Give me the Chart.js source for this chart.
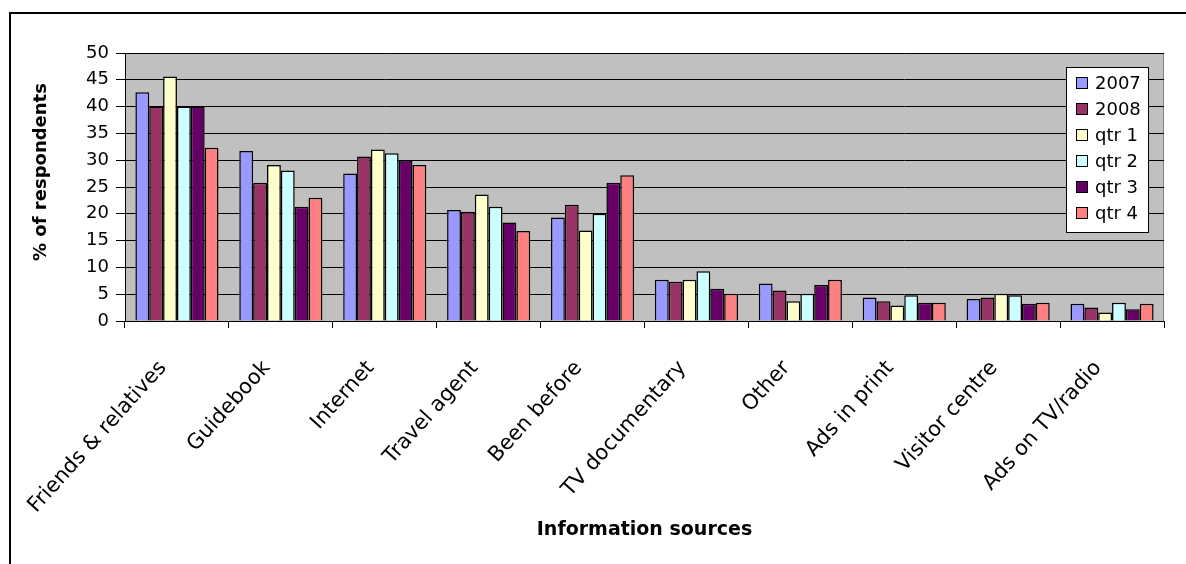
<!DOCTYPE html>
<html>
<head>
<meta charset="utf-8">
<script src="https://cdn.jsdelivr.net/npm/chart.js@4.4.1/dist/chart.umd.min.js"></script>
<style>
  html, body { margin: 0; padding: 0; background: #ffffff; overflow: hidden; }
  canvas { display: block; }
</style>
</head>
<body>
<canvas id="chart" width="1186" height="564"></canvas>
<script>
// Information sources used by respondents (% of respondents)
const categories = ['Friends & relatives', 'Guidebook', 'Internet', 'Travel agent', 'Been before',
  'TV documentary', 'Other', 'Ads in print', 'Visitor centre', 'Ads on TV/radio'];

const seriesNames = ['2007', '2008', 'qtr 1', 'qtr 2', 'qtr 3', 'qtr 4'];

const values2007 = [42.7, 31.7, 27.5, 20.7, 19.3, 7.7, 7.0, 4.4, 4.1, 3.2];
const values2008 = [40.0, 25.8, 30.7, 20.4, 21.7, 7.3, 5.7, 3.7, 4.4, 2.5];
const valuesQtr1 = [45.6, 29.1, 32.0, 23.6, 16.9, 7.7, 3.7, 2.9, 5.1, 1.6];
const valuesQtr2 = [40.0, 28.1, 31.3, 21.3, 20.0, 9.3, 5.1, 4.8, 4.8, 3.4];
const valuesQtr3 = [40.0, 21.3, 30.0, 18.4, 25.8, 6.0, 6.7, 3.4, 3.2, 2.2];
const valuesQtr4 = [32.3, 23.0, 29.1, 16.8, 27.2, 5.1, 7.7, 3.4, 3.4, 3.2];

const yMin = 0;
const yMax = 50;
const yStep = 5;

const xTitle = 'Information sources';
const yTitle = '% of respondents';

const seriesValues = [values2007, values2008, valuesQtr1, valuesQtr2, valuesQtr3, valuesQtr4];
const seriesColors = ['#9999FF', '#993366', '#FFFFCC', '#CCFFFF', '#660066', '#FF8080'];

const FONT = "'DejaVu Sans', 'Liberation Sans', sans-serif";

// Frame, plot-area fill, axis titles and the boxed legend
const decorations = {
  id: 'decorations',
  beforeDraw(chart) {
    const { ctx, chartArea: a } = chart;
    ctx.save();
    ctx.fillStyle = '#C0C0C0';
    ctx.fillRect(a.left, a.top, a.right - a.left, a.bottom - a.top);
    ctx.strokeStyle = '#808080';
    ctx.lineWidth = 1;
    ctx.beginPath();
    ctx.moveTo(a.left, a.top + 0.5);
    ctx.lineTo(a.right - 0.5, a.top + 0.5);
    ctx.lineTo(a.right - 0.5, a.bottom);
    ctx.stroke();
    ctx.restore();
  },
  afterDraw(chart) {
    const { ctx, chartArea: a } = chart;
    ctx.save();
    // outer frame
    ctx.strokeStyle = '#000000';
    ctx.lineWidth = 2;
    ctx.strokeRect(10, 13, 1190, 570);

    // axis titles
    ctx.fillStyle = '#000000';
    ctx.font = 'bold 19px ' + FONT;
    ctx.textAlign = 'center';
    ctx.textBaseline = 'middle';
    ctx.fillText(xTitle, (a.left + a.right) / 2, 530);
    ctx.font = 'bold 18px ' + FONT;
    ctx.translate(41, 172);
    ctx.rotate(-Math.PI / 2);
    ctx.fillText(yTitle, 0, 0);
    ctx.restore();

    // legend
    ctx.save();
    const lx = 1066, ly = 67, lw = 82, lh = 165;
    ctx.fillStyle = '#ffffff';
    ctx.fillRect(lx, ly, lw, lh);
    ctx.strokeStyle = '#000000';
    ctx.lineWidth = 1;
    ctx.strokeRect(lx + 0.5, ly + 0.5, lw, lh);
    ctx.font = '18px ' + FONT;
    ctx.textAlign = 'left';
    ctx.textBaseline = 'middle';
    chart.data.datasets.forEach((ds, i) => {
      const cy = ly + 16 + i * 26;
      ctx.fillStyle = ds.backgroundColor;
      ctx.fillRect(lx + 10, cy - 6, 12, 12);
      ctx.strokeStyle = '#000000';
      ctx.strokeRect(lx + 10.5, cy - 5.5, 11, 11);
      ctx.fillStyle = '#000000';
      ctx.fillText(ds.label, lx + 29, cy + 1);
    });
    ctx.restore();
  }
};

new Chart(document.getElementById('chart'), {
  type: 'bar',
  data: {
    labels: categories,
    datasets: seriesNames.map((name, i) => ({
      label: name,
      data: seriesValues[i],
      backgroundColor: seriesColors[i],
      borderColor: '#000000',
      borderWidth: 1.5,
      categoryPercentage: 0.8,
      barPercentage: 1.0
    }))
  },
  options: {
    responsive: false,
    animation: false,
    layout: { padding: { top: 53, right: 22, left: 0, bottom: 0 } },
    plugins: {
      legend: { display: false },
      tooltip: { enabled: false }
    },
    scales: {
      x: {
        grid: {
          display: true,
          offset: true,
          drawOnChartArea: false,
          drawTicks: true,
          tickLength: 7,
          color: '#000000'
        },
        border: { display: true, color: '#000000', width: 1 },
        ticks: {
          color: '#000000',
          font: { family: FONT, size: 21 },
          minRotation: 48,
          maxRotation: 48,
          autoSkip: false,
          padding: 28,
          labelOffset: -14
        },
        afterFit(scale) { scale.height = 243; }
      },
      y: {
        min: yMin,
        max: yMax,
        grid: {
          color: '#000000',
          lineWidth: 1,
          drawTicks: true,
          tickLength: 9
        },
        border: { display: true, color: '#000000', width: 1 },
        ticks: {
          stepSize: yStep,
          color: '#000000',
          font: { family: FONT, size: 18 },
          padding: 7
        },
        afterFit(scale) { scale.width = 125; }
      }
    }
  },
  plugins: [decorations]
});
</script>
</body>
</html>
